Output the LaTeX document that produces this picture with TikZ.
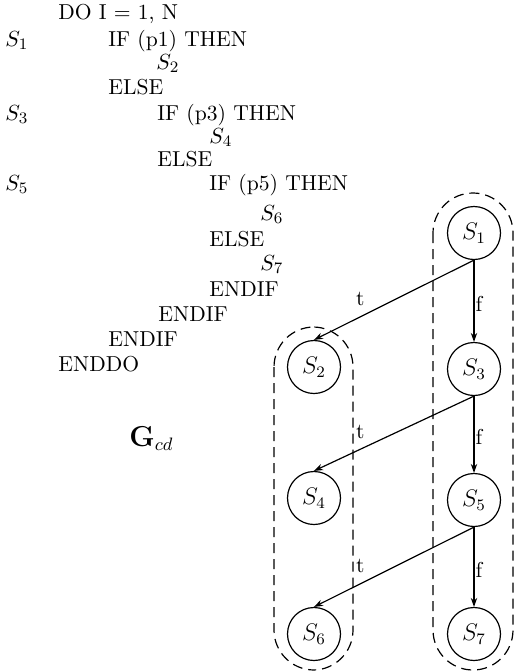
\documentclass[tikz,border=0pt]{standalone}
\usetikzlibrary{arrows.meta}
\begin{document}
\begin{tikzpicture}[x=0.5pt,y=-0.5pt,
  code/.style={anchor=base west,inner sep=0pt,font=\fontsize{10.8}{13}\selectfont},
  stmt/.style={circle,draw,line width=0.6pt,minimum size=26.5pt,inner sep=0pt,font=\large},
  grp/.style={draw,line width=0.6pt,dash pattern=on 5pt off 3pt,rounded corners=20pt},
  flow/.style={draw,line width=0.6pt,-{Stealth[length=4.5pt,width=3.2pt]}},
  lbl/.style={inner sep=0pt,font=\fontsize{10.8}{13}\selectfont}]
\useasboundingbox (0,0) rectangle (514,671);
% code listing
\node[code] (l1) at (58,19) {DO I = 1, N};
\node[code] (s1) at (5,46) {$S_1$};
\node[code] (l2) at (108,46) {IF (p1) THEN};
\node[code] (l3) at (156,69) {$S_2$};
\node[code] (l4) at (108,94) {ELSE};
\node[code] (s3) at (5,120) {$S_3$};
\node[code] (l5) at (157,120) {IF (p3) THEN};
\node[code] (l6) at (209,143) {$S_4$};
\node[code] (l7) at (157,166) {ELSE};
\node[code] (s5) at (5,190) {$S_5$};
\node[code] (l8) at (209,190) {IF (p5) THEN};
\node[code] (l9) at (260,220) {$S_6$};
\node[code] (l10) at (209,246) {ELSE};
\node[code] (l11) at (260,270) {$S_7$};
\node[code] (l12) at (209,296) {ENDIF};
\node[code] (l13) at (158,321) {ENDIF};
\node[code] (l14) at (108,346) {ENDIF};
\node[code] (l15) at (58,371) {ENDDO};
\node[anchor=base west,inner sep=0pt,font=\fontsize{13.5}{16}\selectfont] (gcd) at (129,446) {$\mathbf{G}_{cd}$};
% groups
\draw[grp] (433,193) rectangle (513,670);
\draw[grp] (274,327) rectangle (353,670);
% statement nodes
\node[stmt] (S1) at (474,233) {$S_1$};
\node[stmt] (S2) at (314,367) {$S_2$};
\node[stmt] (S3) at (474,369) {$S_3$};
\node[stmt] (S4) at (314,498) {$S_4$};
\node[stmt] (S5) at (474,500) {$S_5$};
\node[stmt] (S6) at (314,634) {$S_6$};
\node[stmt] (S7) at (474,634) {$S_7$};
% edges
\draw[flow] (S1.south) -- node[lbl,pos=0.71,above=5pt] (t1) {t} (S2.north);
\draw[flow] (S1.south) -- node[lbl,pos=0.53,anchor=west,xshift=0.5pt] (f1) {f} (S3.north);
\draw[flow] (S3.south) -- node[lbl,pos=0.71,above=5pt] (t2) {t} (S4.north);
\draw[flow] (S3.south) -- node[lbl,pos=0.53,anchor=west,xshift=0.5pt] (f2) {f} (S5.north);
\draw[flow] (S5.south) -- node[lbl,pos=0.71,above=5pt] (t3) {t} (S6.north);
\draw[flow] (S5.south) -- node[lbl,pos=0.53,anchor=west,xshift=0.5pt] (f3) {f} (S7.north);
\end{tikzpicture}
\end{document}
